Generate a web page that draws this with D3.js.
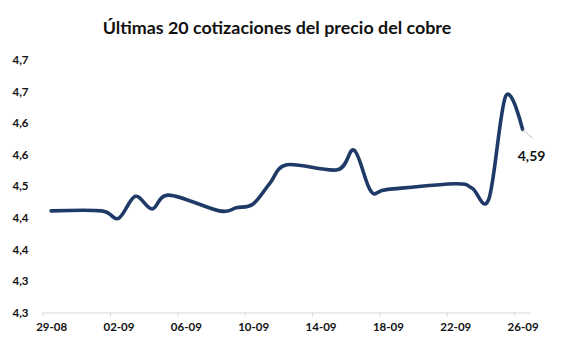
<!DOCTYPE html>
<html>
<head>
<meta charset="utf-8">
<script src="https://cdn.jsdelivr.net/npm/d3@7"></script>
<style>
  html, body { margin: 0; padding: 0; background: #fff; }
  svg { display: block; }
  text { font-family: Lato, "Open Sans", sans-serif; font-weight: 700; fill: #111; }
</style>
</head>
<body>
<svg id="chart" width="568" height="345"></svg>
<script>
// Copper price, last 20 quotes (US$/lb)
const dates = ["2025-08-29","2025-09-01","2025-09-02","2025-09-03","2025-09-04","2025-09-05",
               "2025-09-08","2025-09-09","2025-09-10","2025-09-11","2025-09-12",
               "2025-09-15","2025-09-16","2025-09-17","2025-09-18",
               "2025-09-22","2025-09-23","2025-09-24","2025-09-25","2025-09-26"];
const prices = [4.461, 4.461, 4.449, 4.484, 4.464, 4.486,
                4.461, 4.466, 4.472, 4.505, 4.534,
                4.526, 4.557, 4.492, 4.495,
                4.504, 4.497, 4.480, 4.643, 4.59];

// Axis ticks and their labels
const yTicks = [4.30, 4.35, 4.40, 4.45, 4.50, 4.55, 4.60, 4.65, 4.70];
const yTickLabels = ["4,3","4,3","4,4","4,4","4,5","4,6","4,6","4,7","4,7"];
const xTickDates = ["2025-08-29","2025-09-02","2025-09-06","2025-09-10","2025-09-14","2025-09-18","2025-09-22","2025-09-26"];
const xTickLabels = ["29-08","02-09","06-09","10-09","14-09","18-09","22-09","26-09"];

const title = "Últimas 20 cotizaciones del precio del cobre";
const lastLabel = "4,59";

const parse = d3.utcParse("%Y-%m-%d");
const DAY = 864e5;
const data = dates.map((d, i) => ({ date: parse(d), value: prices[i] }));

const svg = d3.select("#chart");

// Plot frame: each day occupies one slot on the date axis
const plotLeft = 42.7, plotRight = 531, plotTop = 60, plotBottom = 312.5;
const start = parse("2025-08-29");
const end = new Date(parse("2025-09-26").getTime() + DAY);
const x = d3.scaleUtc().domain([start, end]).range([plotLeft, plotRight]);
const y = d3.scaleLinear().domain([4.30, 4.70]).range([plotBottom, plotTop]);
const halfDay = (x(new Date(start.getTime() + DAY)) - x(start)) / 2;
const cx = d => x(d) + halfDay;

// Title, scaled to its set width
const t = svg.append("text")
  .attr("x", 277).attr("y", 34)
  .attr("text-anchor", "middle")
  .style("font-size", "18px")
  .text(title);
const w = t.node().getComputedTextLength();
t.style("font-size", (18 * 349 / w).toFixed(2) + "px");

// Y axis: labels only
const yAxis = d3.axisLeft(y)
  .tickValues(yTicks)
  .tickFormat((d, i) => yTickLabels[i])
  .tickSize(0).tickPadding(0);
const gy = svg.append("g").attr("transform", "translate(28.5,0)").call(yAxis);
gy.select(".domain").remove();
gy.selectAll("text").style("font-size", "11.5px").style("font-family", "Lato, sans-serif").attr("fill", "#111");

// X axis: ticks at slot starts, labels centred in the slot
const xAxis = d3.axisBottom(x)
  .tickValues(xTickDates.map(parse))
  .tickFormat((d, i) => xTickLabels[i])
  .tickSizeInner(4).tickSizeOuter(0).tickPadding(6);
const gx = svg.append("g").attr("transform", `translate(0,${plotBottom})`).call(xAxis);
gx.select(".domain").attr("stroke", "#d9d9d9").attr("d", `M${plotLeft},0.5H${plotRight}`);
gx.selectAll(".tick line").attr("stroke", "#d9d9d9");
gx.selectAll(".tick text")
  .attr("x", halfDay)
  .style("font-size", "11.5px").style("font-family", "Lato, sans-serif").attr("fill", "#111");

// Smoothed price line
const line = d3.line()
  .x(d => cx(d.date))
  .y(d => y(d.value))
  .curve(d3.curveCardinal.tension(0));
svg.append("path")
  .datum(data)
  .attr("d", line)
  .attr("fill", "none")
  .attr("stroke", "#1f3a66")
  .attr("stroke-width", 3.6)
  .attr("stroke-linecap", "round")
  .attr("stroke-linejoin", "round");

// Label on the last quote, with leader line
const last = data[data.length - 1];
const px = cx(last.date), py = y(last.value);
svg.append("line")
  .attr("x1", px).attr("y1", py)
  .attr("x2", px + 10).attr("y2", py + 9)
  .attr("stroke", "#bfbfbf").attr("stroke-width", 1);
svg.append("text")
  .attr("x", px + 9).attr("y", py + 32)
  .attr("text-anchor", "middle")
  .style("font-size", "14px")
  .text(lastLabel);
</script>
</body>
</html>
